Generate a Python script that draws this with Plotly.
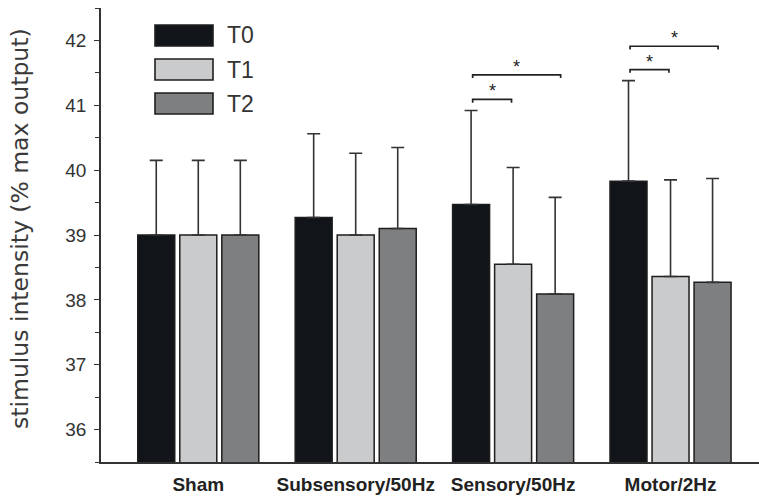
import plotly.graph_objects as go

categories = ["Sham", "Subsensory/50Hz", "Sensory/50Hz", "Motor/2Hz"]
series_names = ["T0", "T1", "T2"]
t0_values = [39.00, 39.27, 39.47, 39.83]
t1_values = [39.00, 39.00, 38.55, 38.36]
t2_values = [39.00, 39.10, 38.09, 38.27]
t0_sd = [1.15, 1.29, 1.45, 1.55]
t1_sd = [1.15, 1.26, 1.49, 1.49]
t2_sd = [1.15, 1.25, 1.49, 1.60]
y_ticks = [36, 37, 38, 39, 40, 41, 42]

# significance: (category index, from series, to series, bracket level)
significance = [
    (2, 0, 1, 41.09),
    (2, 0, 2, 41.47),
    (3, 0, 1, 41.55),
    (3, 0, 2, 41.91),
]

colors = ["#111418", "#c9cbcc", "#7d7f81"]
values = [t0_values, t1_values, t2_values]
sds = [t0_sd, t1_sd, t2_sd]

W, H = 759, 497
L, R, T, B = 101, 0, 8, 35
pw, ph = W - L - R, H - T - B


def px_x(p):
    return (p - L) / pw


def px_y(p):
    return (H - B - p) / ph


fig = go.Figure()
for name, vals, sd, col in zip(series_names, values, sds, colors):
    fig.add_trace(go.Bar(
        x=categories, y=vals, name=name,
        marker=dict(color=col, line=dict(color="#1e1e1e", width=1.5)),
        error_y=dict(type="data", array=sd, arrayminus=[0] * len(sd),
                     symmetric=False, color="#333333", thickness=1.6, width=6.5),
        showlegend=False,
    ))

# group geometry (category units)
slot = 0.267
offsets = [-slot, 0.0, slot]

for ci, s0, s1, lev in significance:
    xa = ci + offsets[s0] + 0.01
    xb = ci + offsets[s1] + (0.035 if s1 == 2 else -0.01)
    drop = 0.05
    fig.add_shape(type="path",
                  path=f"M {xa},{lev - drop} L {xa},{lev} L {xb},{lev} L {xb},{lev - drop}",
                  xref="x", yref="y", line=dict(color="#222222", width=1.7))
    fig.add_annotation(x=(xa + xb) / 2, y=lev, xref="x", yref="y", text="*",
                       showarrow=False, yanchor="bottom", yshift=-4,
                       font=dict(family="Liberation Sans", size=18, color="#222222"))

# legend boxes
legend_tops = [25, 59, 93]
for name, col, top in zip(series_names, colors, legend_tops):
    fig.add_shape(type="rect", xref="paper", yref="paper",
                  x0=px_x(155), x1=px_x(213), y0=px_y(top + 21), y1=px_y(top),
                  fillcolor=col, line=dict(color="#1e1e1e", width=1.6))
    fig.add_annotation(xref="paper", yref="paper", x=px_x(225), y=px_y(top + 10.5),
                       text=name, showarrow=False, xanchor="left", yanchor="middle",
                       font=dict(family="Liberation Sans", size=23, color="#333333"))

# y-axis title
fig.add_annotation(xref="paper", yref="paper", x=px_x(20), y=px_y(229),
                   text="stimulus intensity (% max output)", textangle=-90,
                   showarrow=False, xanchor="center", yanchor="middle",
                   font=dict(family="DejaVu Sans", size=23.5, color="#3a3a3a"))

fig.update_layout(
    width=W, height=H,
    margin=dict(l=L, r=R, t=T, b=B, pad=0),
    paper_bgcolor="white", plot_bgcolor="white",
    barmode="group", bargap=0.199, bargroupgap=0.12,
    xaxis=dict(range=[-0.618, 3.562], showline=True, linecolor="#333333",
               linewidth=1.6, ticks="", showgrid=False, zeroline=False,
               tickfont=dict(family="Liberation Sans", size=19, color="#222222",
                             weight="bold"),
               ticklabelstandoff=4),
    yaxis=dict(range=[35.5, 42.5], tickvals=y_ticks, showline=True,
               linecolor="#333333", linewidth=1.6, ticks="outside", ticklen=5,
               tickwidth=1.3, tickcolor="#333333", showgrid=False, zeroline=False,
               minor=dict(dtick=0.5, tick0=35.5, ticks="outside", ticklen=4,
                          tickcolor="#333333", tickwidth=1.2, showgrid=False),
               tickfont=dict(family="Liberation Sans", size=19, color="#333333"),
               ticklabelstandoff=4),
)

fig.write_html("out.html", config={"displayModeBar": False},
               post_script="document.body.style.margin='0';document.body.style.overflow='hidden';")
